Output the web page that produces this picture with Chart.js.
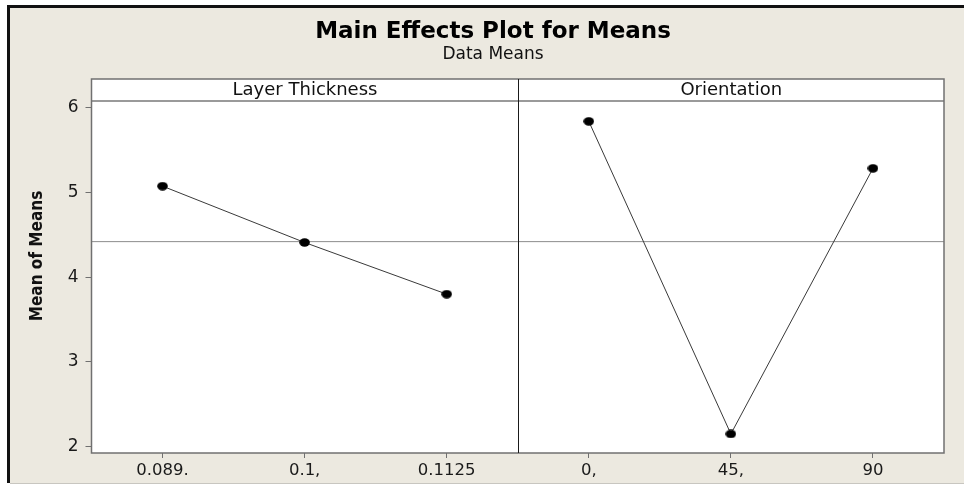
<!DOCTYPE html>
<html>
<head>
<meta charset="utf-8">
<script src="https://cdn.jsdelivr.net/npm/chart.js@4.4.1/dist/chart.umd.min.js"></script>
<style>
  html, body { margin: 0; padding: 0; background: #ffffff; }
  #wrap { width: 964px; height: 485px; position: relative; }
</style>
</head>
<body>
<div id="wrap"><canvas id="c" width="964" height="485"></canvas></div>
<script>
// ---- data ----
const titleText = 'Main Effects Plot for Means';
const subtitleText = 'Data Means';
const yAxisTitle = 'Mean of Means';
const panelNames = ['Layer Thickness', 'Orientation'];
const levelsLayer = ['0.089.', '0.1,', '0.1125'];
const levelsOrient = ['0,', '45,', '90'];
const meansLayer = [5.075, 4.41, 3.80];
const meansOrient = [5.84, 2.15, 5.285];
const grandMean = 4.42;
const yTickValues = [2, 3, 4, 5, 6];

// combined category positions: panel 1 -> 0,1,2 ; panel 2 -> 3,4,5
const xTickLabels = levelsLayer.concat(levelsOrient);

const FONT = "'DejaVu Sans', Verdana, sans-serif";
const BEIGE = '#ece9e0';

// slightly wide elliptical marker, as in the reference
const marker = document.createElement('canvas');
marker.width = 11; marker.height = 9;
(function () {
  const m = marker.getContext('2d');
  m.fillStyle = '#000000';
  m.beginPath();
  m.ellipse(5.5, 4.5, 5.3, 4.2, 0, 0, Math.PI * 2);
  m.fill();
})();

const decorPlugin = {
  id: 'decor',
  beforeDraw(chart) {
    const ctx = chart.ctx;
    const W = chart.width, H = chart.height;
    const a = chart.chartArea;
    ctx.save();
    ctx.fillStyle = '#ffffff';
    ctx.fillRect(0, 0, W, H);
    ctx.fillStyle = BEIGE;
    ctx.fillRect(10, 8, W - 10, H - 10);
    ctx.fillStyle = '#111111';
    ctx.fillRect(7, 5, W - 7, 3);
    ctx.fillRect(7, 5, 3, H - 7);
    ctx.fillStyle = '#c8c6c0';
    ctx.fillRect(10, H - 2, W - 10, 1);
    const stripTop = a.top - 22;
    ctx.fillStyle = '#ffffff';
    ctx.fillRect(a.left, stripTop, a.right - a.left, a.bottom - stripTop);
    ctx.restore();
  },
  afterDraw(chart) {
    const ctx = chart.ctx;
    const a = chart.chartArea;
    const xs = chart.scales.x;
    const stripTop = a.top - 22;
    const divX = Math.round(xs.getPixelForValue(2.5)) + 0.5;
    ctx.save();
    ctx.strokeStyle = '#9a9a9a';
    ctx.lineWidth = 2;
    ctx.beginPath();
    ctx.moveTo(a.left, a.top);
    ctx.lineTo(a.right, a.top);
    ctx.stroke();
    ctx.strokeStyle = '#707070';
    ctx.lineWidth = 1.5;
    ctx.strokeRect(a.left, stripTop, a.right - a.left, a.bottom - stripTop);
    ctx.strokeStyle = '#1a1a1a';
    ctx.lineWidth = 1;
    ctx.beginPath();
    ctx.moveTo(divX, stripTop);
    ctx.lineTo(divX, a.bottom);
    ctx.stroke();
    ctx.fillStyle = '#111111';
    ctx.font = '18px ' + FONT;
    ctx.textAlign = 'center';
    ctx.textBaseline = 'middle';
    ctx.fillText(panelNames[0], (a.left + divX) / 2, stripTop + 11);
    ctx.fillText(panelNames[1], (divX + a.right) / 2, stripTop + 11);
    ctx.translate(38, 256);
    ctx.rotate(-Math.PI / 2);
    ctx.font = "bold 17px 'Liberation Sans Narrow', 'DejaVu Sans Condensed', Arial, sans-serif";
    ctx.fillStyle = '#111111';
    ctx.fillText(yAxisTitle, 0, 0);
    ctx.restore();
  }
};

new Chart(document.getElementById('c'), {
  type: 'scatter',
  data: {
    datasets: [
      {
        label: panelNames[0],
        data: meansLayer.map((v, i) => ({ x: i, y: v })),
        showLine: true,
        borderColor: '#3a3a3a',
        borderWidth: 1,
        pointStyle: marker,
        pointRadius: 5,
        pointBorderWidth: 0,
        pointBackgroundColor: '#000000',
        pointBorderColor: '#000000'
      },
      {
        label: panelNames[1],
        data: meansOrient.map((v, i) => ({ x: i + levelsLayer.length, y: v })),
        showLine: true,
        borderColor: '#3a3a3a',
        borderWidth: 1,
        pointStyle: marker,
        pointRadius: 5,
        pointBorderWidth: 0,
        pointBackgroundColor: '#000000',
        pointBorderColor: '#000000'
      },
      {
        label: 'Grand mean',
        data: [{ x: -0.5, y: grandMean }, { x: xTickLabels.length - 0.5, y: grandMean }],
        showLine: true,
        borderColor: '#8c8c8c',
        borderWidth: 1,
        pointRadius: 0
      }
    ]
  },
  options: {
    responsive: false,
    animation: false,
    devicePixelRatio: 1,
    layout: { padding: { left: 42, right: 20, top: 0, bottom: 0 } },
    plugins: {
      legend: { display: false },
      tooltip: { enabled: false },
      title: {
        display: true,
        text: titleText,
        color: '#000000',
        font: { family: FONT, size: 23, weight: 'bold', lineHeight: 1.0 },
        padding: { top: 21, bottom: 0 }
      },
      subtitle: {
        display: true,
        text: subtitleText,
        color: '#111111',
        font: { family: FONT, size: 17, lineHeight: 1.2 },
        padding: { top: 0, bottom: 36.6 }
      }
    },
    scales: {
      x: {
        type: 'linear',
        min: -0.5,
        max: xTickLabels.length - 0.5,
        afterBuildTicks: (s) => { s.ticks = xTickLabels.map((_, i) => ({ value: i })); },
        afterFit: (s) => { s.height = 32; },
        ticks: {
          autoSkip: false,
          maxRotation: 0,
          padding: 3,
          color: '#1a1a1a',
          font: { family: FONT, size: 16.5 },
          callback: (v) => xTickLabels[v]
        },
        grid: { drawOnChartArea: false, drawTicks: true, tickLength: 5, color: '#707070' },
        border: { display: false }
      },
      y: {
        min: 1.925,
        max: 6.08,
        afterBuildTicks: (s) => { s.ticks = yTickValues.map(v => ({ value: v })); },
        afterFit: (s) => { s.width = 49.5; },
        ticks: {
          padding: 7,
          color: '#1a1a1a',
          font: { family: FONT, size: 17 },
          callback: (v) => String(v)
        },
        grid: { drawOnChartArea: false, drawTicks: true, tickLength: 6, color: '#707070' },
        border: { display: false }
      }
    }
  },
  plugins: [decorPlugin]
});
</script>
</body>
</html>
